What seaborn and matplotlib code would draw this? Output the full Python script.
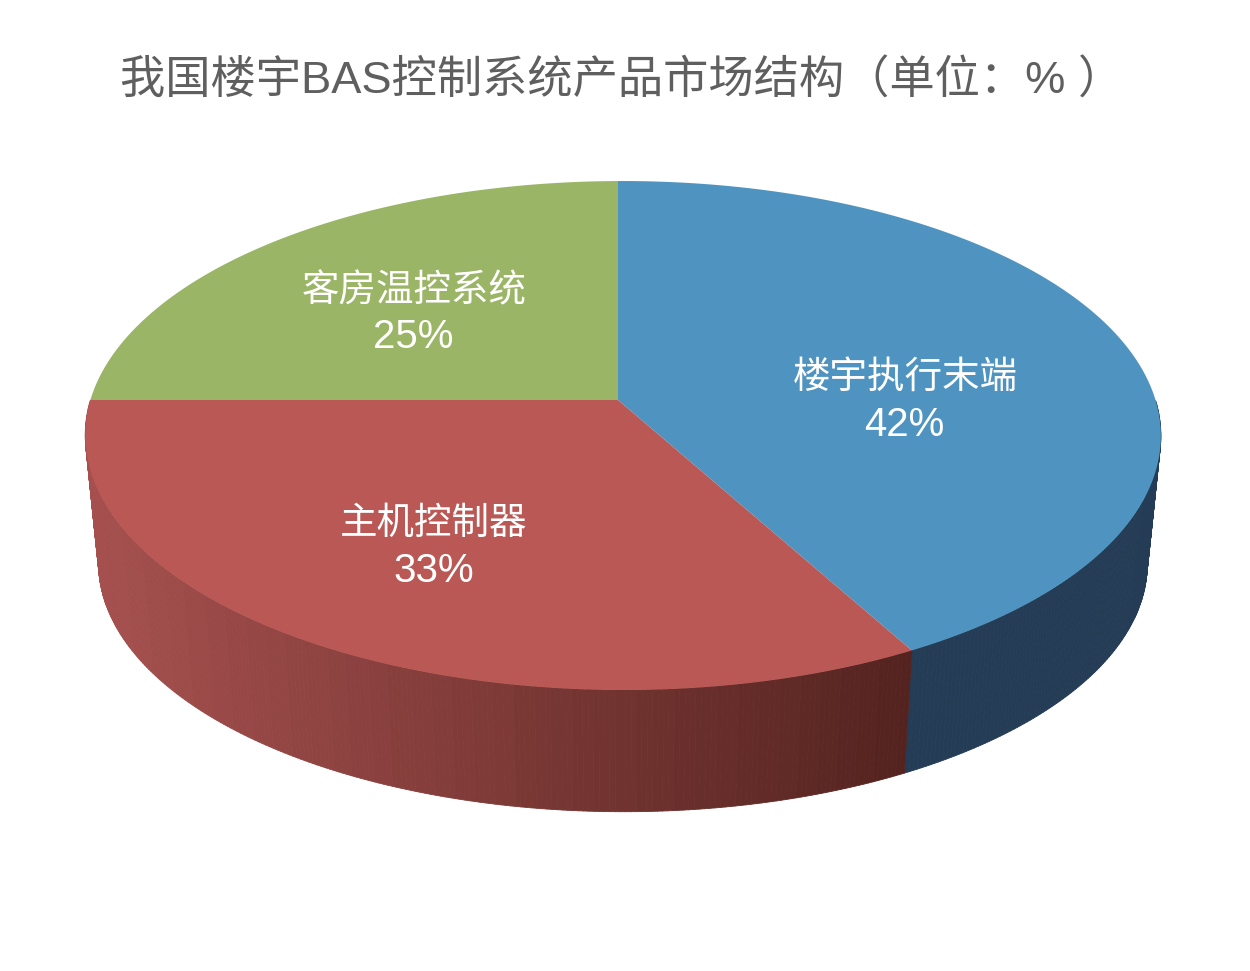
import numpy as np
import matplotlib
matplotlib.use("Agg")
import matplotlib.pyplot as plt
from matplotlib.path import Path
from matplotlib.collections import PolyCollection
from matplotlib.colors import to_rgb
import seaborn as sns

# ---- data ----
categories = ["楼宇执行末端", "主机控制器", "客房温控系统"]
shares = [42, 33, 25]
title = "我国楼宇BAS控制系统产品市场结构（单位：% ）"

# ---- style ----
top_colors = ["#4F94C1", "#B95855", "#9BB566"]
side_colors = {0: ("#243C55", "#243C55"), 1: ("#A5504E", "#54231F"), 2: ("#6A7F40", "#6A7F40")}
name_xy = [(905, 378), (434, 524), (414, 291)]
pct_xy = [(904, 425), (434, 571), (413, 337)]

sns.set_theme(style="white")
FONTS = ["Liberation Sans", "Noto Sans CJK SC", "DejaVu Sans"]
plt.rcParams["font.family"] = FONTS

fig, ax = plt.subplots(figsize=(12.5, 9.71), dpi=100)
fig.subplots_adjust(0, 0, 1, 1)

APEX = (618.0, 400.0)
K, M, A, B = 0.1395, -0.0093, 532.5, 249.5
SCALE, DROP = 0.975, 129.0


def project(x, y):
    """Tilted perspective view of the unit-circle pie in image pixels."""
    x, y = np.asarray(x), np.asarray(y)
    w = 1 + K * y + M * x
    return APEX[0] + A * x / w, APEX[1] - B * y / w


wedges, _ = ax.pie(shares, colors=top_colors, startangle=90, counterclock=False,
                   radius=1, wedgeprops=dict(linewidth=0))
ax.set_aspect("auto")
ax.set_xlim(0, 1250)
ax.set_ylim(971, 0)

# side wall, derived from the same shares
edges = np.cumsum([0] + shares) / sum(shares)
polys, cols = [], []
for i in range(len(shares)):
    n = max(int((edges[i + 1] - edges[i]) * 720), 2)
    t = np.linspace(edges[i], edges[i + 1], n + 1)
    th = np.pi / 2 - 2 * np.pi * t
    X, Y = project(np.cos(th), np.sin(th))
    Xl = APEX[0] + SCALE * (X - APEX[0])
    Yl = APEX[1] + DROP + SCALE * (Y - APEX[1])
    c0, c1 = map(np.array, map(to_rgb, side_colors[i]))
    for j in range(n):
        if np.sin(th[j]) > 0.001 or np.sin(th[j + 1]) > 0.001:
            continue
        f = np.clip((0.5 * (X[j] + X[j + 1]) - 90) / (912 - 90), 0, 1)
        f = np.round(f * 40) / 40
        polys.append([(X[j], Y[j]), (X[j + 1], Y[j + 1]), (Xl[j + 1], Yl[j + 1]), (Xl[j], Yl[j])])
        cols.append(c0 + (c1 - c0) * f)
ax.add_collection(PolyCollection(polys, facecolors=cols, edgecolors=cols, linewidths=0.6, zorder=1))

# top face: the pie's own wedges, seen through the projection
for w in wedges:
    ang = np.radians(np.linspace(w.theta1, w.theta2, 300))
    px = np.r_[w.center[0], w.center[0] + w.r * np.cos(ang), w.center[0]]
    py = np.r_[w.center[1], w.center[1] + w.r * np.sin(ang), w.center[1]]
    X, Y = project(px, py)
    w._path = Path(np.column_stack([X, Y]))
    w.set_zorder(2)

for (nx, ny), (px, py), cat, v in zip(name_xy, pct_xy, categories, shares):
    ax.text(nx, ny, cat, color="white", fontsize=27, ha="center", va="center", zorder=3)
    ax.text(px, py, f"{v}%", color="white", fontsize=29, ha="center", va="center", zorder=3)

ax.text(120, 81, title, color="#5F5F5F", fontsize=32.6, ha="left", va="center", zorder=3)

fig.savefig("out.png", dpi=100, facecolor="white")
